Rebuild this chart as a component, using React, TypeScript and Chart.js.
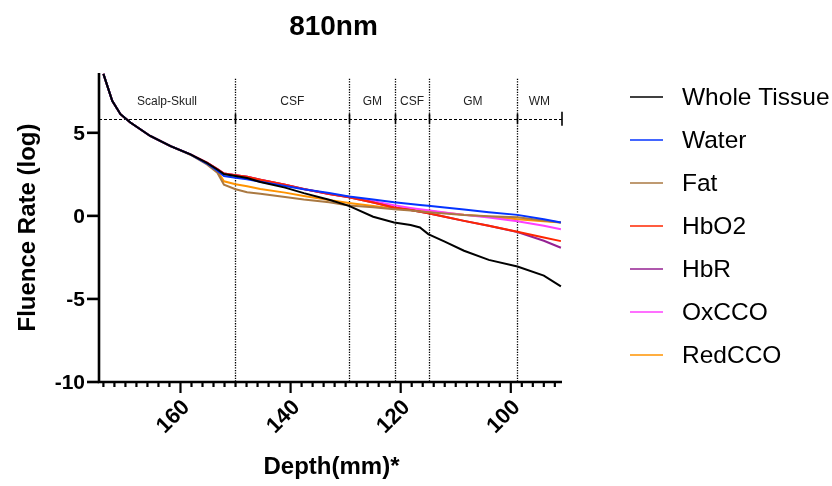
import React, { useEffect, useRef } from "react";
import { Chart, registerables } from "chart.js";

Chart.register(...registerables);

// Depth grid (mm) shared by every series
const DEPTH = [174.0, 172.4, 170.9, 169.1, 165.5, 161.8, 158.2, 155.2, 153.3, 152.1, 150, 147.9, 145.5, 141, 137.6, 133, 129.4, 125, 121.2, 118.2, 116.5, 115, 112, 108.5, 104, 98.8, 94, 90.9];

// log fluence rate per chromophore
const WHOLE_TISSUE = [8.55, 6.93, 6.12, 5.62, 4.81, 4.2, 3.7, 3.19, 2.79, 2.52, 2.4, 2.28, 2.04, 1.7, 1.37, 0.97, 0.6, -0.05, -0.4, -0.55, -0.7, -1.1, -1.55, -2.1, -2.65, -3.05, -3.6, -4.24];
const WATER = [8.55, 6.93, 6.12, 5.62, 4.81, 4.2, 3.7, 3.15, 2.72, 2.4, 2.3, 2.2, 2.06, 1.8, 1.6, 1.37, 1.17, 0.98, 0.82, 0.72, 0.66, 0.61, 0.5, 0.38, 0.22, 0.06, -0.2, -0.4];
const FAT = [8.55, 6.93, 6.12, 5.62, 4.81, 4.2, 3.68, 3.1, 2.6, 1.88, 1.6, 1.42, 1.33, 1.13, 0.98, 0.82, 0.63, 0.52, 0.4, 0.32, 0.27, 0.22, 0.14, 0.05, -0.02, -0.08, -0.28, -0.4];
const HBO2 = [8.55, 6.93, 6.12, 5.62, 4.81, 4.2, 3.7, 3.2, 2.82, 2.55, 2.45, 2.35, 2.18, 1.88, 1.62, 1.32, 1.12, 0.8, 0.5, 0.35, 0.25, 0.16, -0.05, -0.3, -0.6, -0.95, -1.3, -1.52];
const HBR = [8.55, 6.93, 6.12, 5.62, 4.81, 4.2, 3.7, 3.2, 2.82, 2.55, 2.45, 2.35, 2.18, 1.88, 1.62, 1.32, 1.12, 0.8, 0.5, 0.35, 0.25, 0.16, -0.05, -0.3, -0.6, -0.97, -1.5, -1.92];
const OXCCO = [8.55, 6.93, 6.12, 5.62, 4.81, 4.2, 3.7, 3.2, 2.82, 2.55, 2.45, 2.35, 2.17, 1.87, 1.61, 1.32, 1.15, 0.88, 0.64, 0.48, 0.4, 0.34, 0.2, 0.06, -0.1, -0.33, -0.6, -0.81];
const REDCCO = [8.55, 6.93, 6.12, 5.62, 4.81, 4.2, 3.7, 3.15, 2.7, 2.08, 1.9, 1.78, 1.62, 1.4, 1.2, 0.95, 0.77, 0.6, 0.44, 0.37, 0.33, 0.29, 0.19, 0.07, -0.05, -0.2, -0.33, -0.4];

const SERIES_NAMES = ["Whole Tissue", "Water", "Fat", "HbO2", "HbR", "OxCCO", "RedCCO"];
const SERIES_VALUES = [WHOLE_TISSUE, WATER, FAT, HBO2, HBR, OXCCO, REDCCO];
const SERIES_COLORS = ["#000000", "#0433FF", "#AA7942", "#FF2600", "#942192", "#FF40FF", "#FF9300"];

// Axis ranges and ticks
const X_MIN = 90.7;
const X_MAX = 174.8;
const X_MAJOR_TICKS = [160, 140, 120, 100];
const X_MINOR_STEP = 2;
const Y_MIN = -10;
const Y_MAX = 8.6;
const Y_TICKS = [5, 0, -5, -10];

// Tissue layers along the depth axis
const LAYER_NAMES = ["Scalp-Skull", "CSF", "GM", "CSF", "GM", "WM"];
const LAYER_BOUNDS = [150.1, 129.3, 121.0, 114.9, 98.9];
const LAYER_BAR_LEVEL = 5.85;

const TITLE = "810nm";
const X_TITLE = "Depth(mm)*";
const Y_TITLE = "Fluence Rate (log)";

const FONT = '"Liberation Sans", Arial, Helvetica, sans-serif';

const decorations = {
  id: "decorations",
  beforeDatasetsDraw(chart: any) {
    const { ctx, chartArea, scales } = chart;
    const xs = scales.x;
    const ys = scales.y;
    const barY = ys.getPixelForValue(LAYER_BAR_LEVEL);
    ctx.save();
    // layer boundaries
    ctx.strokeStyle = "#000";
    ctx.lineWidth = 1.3;
    ctx.setLineDash([1.3, 1.3]);
    for (const b of LAYER_BOUNDS) {
      const x = Math.round(xs.getPixelForValue(b)) + 0.5;
      ctx.beginPath();
      ctx.moveTo(x, barY - 40);
      ctx.lineTo(x, chartArea.bottom);
      ctx.stroke();
    }
    // layer bar
    ctx.setLineDash([3, 2]);
    ctx.lineWidth = 1;
    ctx.beginPath();
    ctx.moveTo(chartArea.left, Math.round(barY) + 0.5);
    ctx.lineTo(chartArea.right, Math.round(barY) + 0.5);
    ctx.stroke();
    ctx.setLineDash([]);
    ctx.lineWidth = 1.6;
    for (const b of LAYER_BOUNDS) {
      const x = Math.round(xs.getPixelForValue(b)) + 0.5;
      ctx.beginPath();
      ctx.moveTo(x, barY - 5);
      ctx.lineTo(x, barY + 5);
      ctx.stroke();
    }
    ctx.beginPath();
    ctx.moveTo(chartArea.right, barY - 7);
    ctx.lineTo(chartArea.right, barY + 7);
    ctx.stroke();
    // layer names
    const edges = [X_MAX, ...LAYER_BOUNDS, X_MIN];
    ctx.fillStyle = "#222";
    ctx.font = `12px ${FONT}`;
    ctx.textAlign = "center";
    ctx.textBaseline = "middle";
    LAYER_NAMES.forEach((name, i) => {
      const x0 = xs.getPixelForValue(edges[i]);
      const x1 = xs.getPixelForValue(edges[i + 1]);
      ctx.fillText(name, (x0 + x1) / 2, barY - 17);
    });
    ctx.restore();
  },
  afterDraw(chart: any) {
    const { ctx, chartArea, scales } = chart;
    const xs = scales.x;
    const ys = scales.y;
    const { left, right, top, bottom } = chartArea;
    ctx.save();
    ctx.strokeStyle = "#000";
    ctx.fillStyle = "#000";
    ctx.lineWidth = 2.6;
    ctx.lineCap = "butt";
    // axis lines
    ctx.beginPath();
    ctx.moveTo(left, top);
    ctx.lineTo(left, bottom + 1.3);
    ctx.moveTo(left - 1.3, bottom);
    ctx.lineTo(right, bottom);
    ctx.stroke();
    // y ticks
    ctx.font = `bold 21px ${FONT}`;
    ctx.textAlign = "right";
    ctx.textBaseline = "middle";
    for (const v of Y_TICKS) {
      const y = ys.getPixelForValue(v);
      ctx.beginPath();
      ctx.moveTo(left - 12, y);
      ctx.lineTo(left, y);
      ctx.stroke();
      ctx.fillText(String(v), left - 14, y + 1);
    }
    // x minor ticks
    ctx.lineWidth = 2.2;
    for (let v = Math.ceil(X_MIN / X_MINOR_STEP) * X_MINOR_STEP; v <= X_MAX; v += X_MINOR_STEP) {
      const x = xs.getPixelForValue(v);
      const major = X_MAJOR_TICKS.includes(v);
      ctx.beginPath();
      ctx.moveTo(x, bottom);
      ctx.lineTo(x, bottom + (major ? 11 : 5));
      ctx.stroke();
    }
    // x tick labels
    ctx.font = `bold 22px ${FONT}`;
    for (const v of X_MAJOR_TICKS) {
      const x = xs.getPixelForValue(v);
      ctx.save();
      ctx.translate(x + 6, bottom + 22);
      ctx.rotate(-Math.PI / 4);
      ctx.textAlign = "right";
      ctx.textBaseline = "middle";
      ctx.fillText(String(v), 0, 0);
      ctx.restore();
    }
    // titles
    ctx.textAlign = "center";
    ctx.textBaseline = "middle";
    ctx.font = `bold 28px ${FONT}`;
    ctx.fillText(TITLE, (left + right) / 2 + 3, 27);
    ctx.font = `bold 24px ${FONT}`;
    ctx.fillText(X_TITLE, (left + right) / 2 + 1, 467);
    ctx.save();
    ctx.translate(28, (top + bottom) / 2);
    ctx.rotate(-Math.PI / 2);
    ctx.fillText(Y_TITLE, 0, 0);
    ctx.restore();
    // legend
    ctx.font = `24.5px ${FONT}`;
    ctx.textAlign = "left";
    ctx.lineWidth = 1.5;
    SERIES_NAMES.forEach((name, i) => {
      const y = 97 + i * 43;
      ctx.strokeStyle = SERIES_COLORS[i];
      ctx.beginPath();
      ctx.moveTo(630, y);
      ctx.lineTo(663, y);
      ctx.stroke();
      ctx.fillStyle = "#000";
      ctx.fillText(name, 682, y + 1);
    });
    ctx.restore();
  },
};

export default function App() {
  const canvasRef = useRef<HTMLCanvasElement | null>(null);

  useEffect(() => {
    const canvas = canvasRef.current;
    if (!canvas) return;
    const chart = new Chart(canvas, {
      type: "line",
      data: {
        datasets: SERIES_NAMES.map((name, i) => ({
          label: name,
          data: DEPTH.map((d, j) => ({ x: d, y: SERIES_VALUES[i][j] })),
          borderColor: SERIES_COLORS[i],
          backgroundColor: SERIES_COLORS[i],
          borderWidth: 2,
          pointRadius: 0,
          tension: 0,
          fill: false,
        })),
      },
      options: {
        responsive: false,
        animation: false,
        layout: { padding: { left: 99, right: 270, top: 73, bottom: 104 } },
        plugins: {
          legend: { display: false },
          title: { display: false },
          tooltip: { enabled: false },
        },
        scales: {
          x: { type: "linear", reverse: true, min: X_MIN, max: X_MAX, display: false },
          y: { type: "linear", min: Y_MIN, max: Y_MAX, display: false },
        },
      },
      plugins: [decorations],
    });
    return () => chart.destroy();
  }, []);

  return (
    <div style={{ position: "absolute", left: 0, top: 0, width: 832, height: 486, background: "#fff" }}>
      <canvas ref={canvasRef} width={832} height={486} style={{ display: "block" }} />
    </div>
  );
}
